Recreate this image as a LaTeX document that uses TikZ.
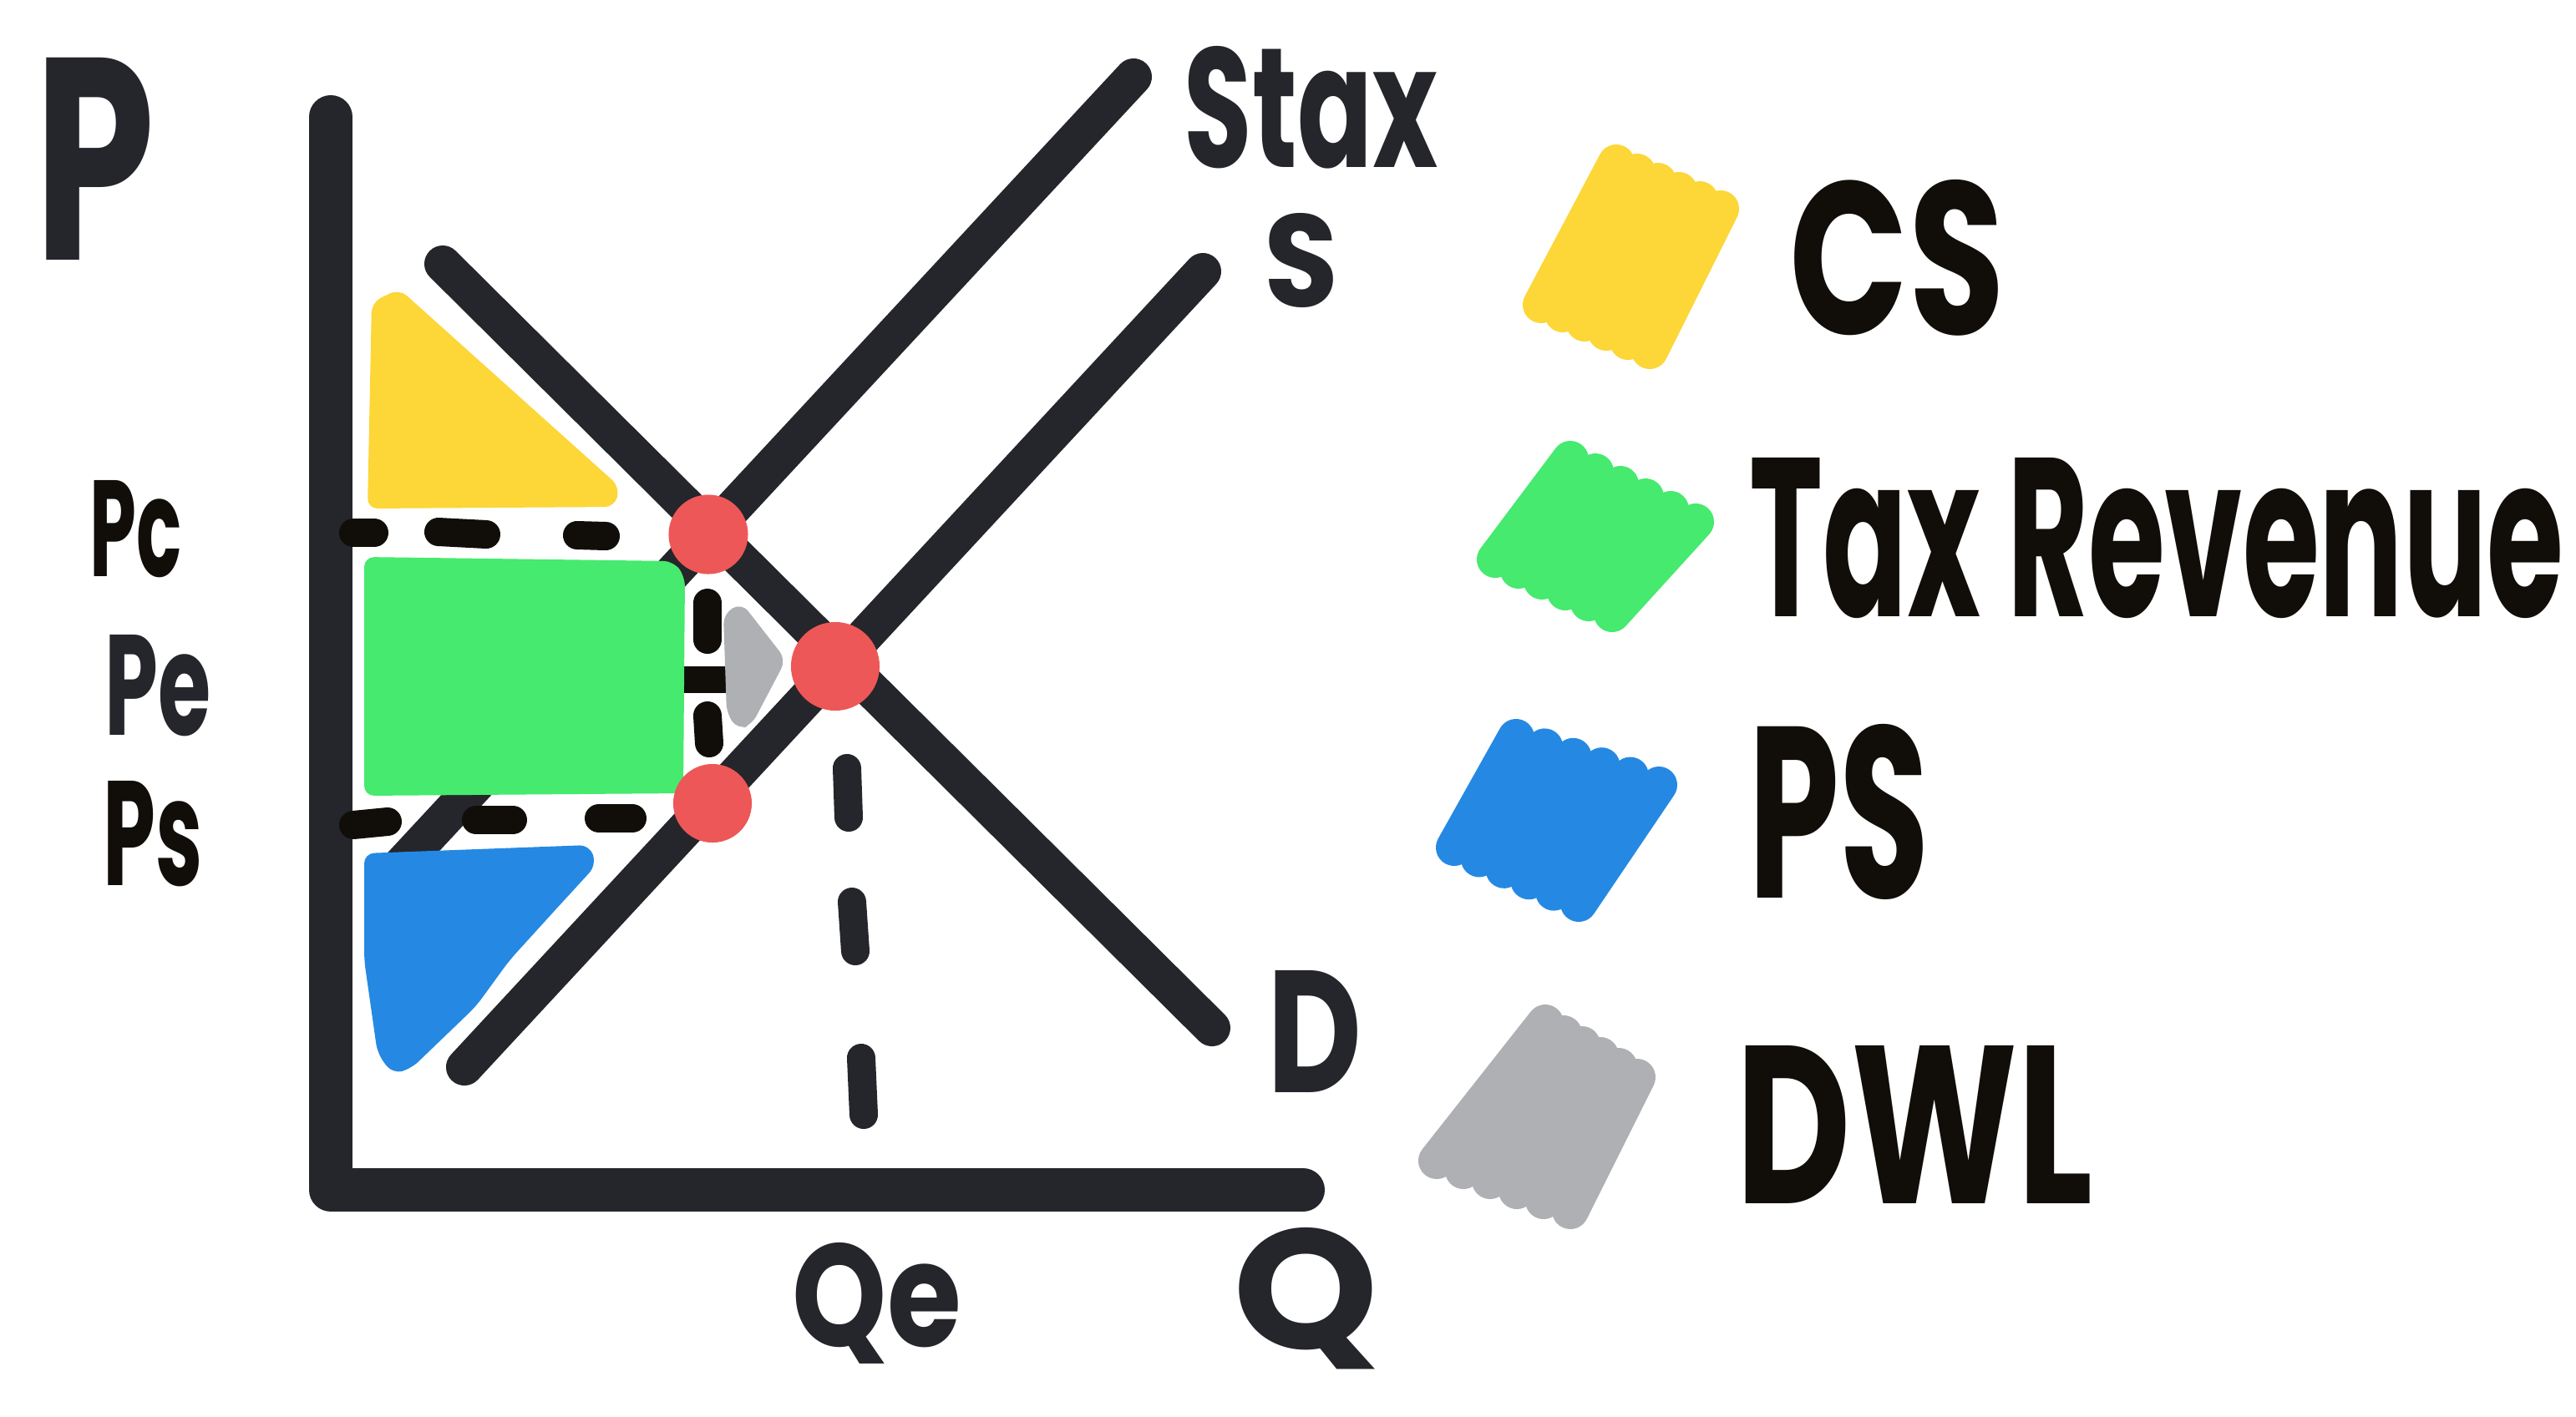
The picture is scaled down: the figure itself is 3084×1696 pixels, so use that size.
\documentclass[tikz,border=0pt]{standalone}
\usepackage{fontspec}
\usepackage{graphicx}
\newfontfamily\hand{Poppins}
\usetikzlibrary{calc}
\definecolor{ink}{RGB}{37,38,43}
\definecolor{blk}{RGB}{17,14,10}
\definecolor{csy}{RGB}{253,214,55}
\definecolor{trg}{RGB}{69,234,110}
\definecolor{psb}{RGB}{37,137,227}
\definecolor{dwl}{RGB}{175,176,179}
\definecolor{dotr}{RGB}{238,87,87}
\newcommand\myscribble[5]{\foreach \k in {0,...,5}{\draw[#1,line width=0.44cm,line cap=round] ($(#2)!\k/5!(#3)$) -- ($(#4)!\k/5!(#5)$);}}
\newcommand\lbl[6]{\node[anchor=base west,inner sep=0pt,#1] (#2) at (#3) {\resizebox{#4}{#5}{\hand\bfseries #6}};}
\tikzset{
  curve/.style={ink,line width=0.44cm,line cap=round},
  dashpiece/.style={blk,line width=0.34cm,line cap=round},
  qdash/.style={ink,line width=0.34cm,line cap=round},
  area/.style={rounded corners=0.12cm},
  eqdot/.style={circle,fill=dotr,inner sep=0pt}
}
\begin{document}
\begin{tikzpicture}[x=0.01cm,y=-0.01cm]
\fill[white] (0,0) rectangle (3084,1696);
\useasboundingbox (0,0) rectangle (3084,1696);
% axes
\draw[ink,line width=0.52cm,line cap=round,line join=round] (396,140) -- (396,1425) -- (1560,1425);
% curves
\draw[curve] (530,316) -- (1451,1231);   % D
\draw[curve] (1357,92) -- (472,1045);    % Stax
\draw[curve] (1440,325) -- (556,1278);   % S
% Pe stub
\draw[blk,line width=0.32cm] (815,814) -- (880,814);
% Pc dashes
\draw[dashpiece] (423,638) -- (448,638);
\draw[dashpiece] (525,637) -- (582,640);
\draw[dashpiece] (691,641) -- (725,642);
% Ps dashes
\draw[dashpiece] (423,988) -- (464,984);
\draw[dashpiece] (570,982) -- (614,982);
\draw[dashpiece] (717,980) -- (757,980);
% Qt dashes
\draw[dashpiece] (847,722) -- (847,766);
\draw[dashpiece] (847,857) -- (849,890);
% Qe dashes
\draw[qdash] (1014,920) -- (1016,979);
\draw[qdash] (1020,1080) -- (1024,1139);
\draw[qdash] (1031,1267) -- (1034,1335);
% areas
\fill[csy,area] (445,362) -- (478,346) -- (742,583) -- (736,607) -- (440,609) -- cycle;
\fill[trg,area] (436,667) -- (806,672) -- (820,690) -- (818,950) -- (436,953) -- cycle;
\fill[psb,area] (436,1022) -- (706,1012) -- (714,1036) -- (660,1095) -- (610,1150) -- (570,1205) -- (492,1280) -- (470,1286) -- (452,1262) -- (436,1150) -- cycle;
\fill[dwl,area] (866,735) -- (888,722) -- (941,790) -- (900,868) -- (884,874) -- (870,855) -- cycle;
% equilibrium dots
\node[eqdot,minimum size=0.95cm] (pc) at (848,640) {};
\node[eqdot,minimum size=1.06cm] (pe) at (1000,798) {};
\node[eqdot,minimum size=0.94cm] (ps) at (853,962) {};
% axis labels
\lbl{text=ink}{lP}{41,311}{1.44cm}{2.42cm}{P}
\lbl{text=blk}{lPc}{107,690}{1.10cm}{1.15cm}{Pc}
\lbl{text=ink}{lPe}{125,880}{1.27cm}{1.20cm}{Pe}
\lbl{text=blk}{lPs}{123,1060}{1.19cm}{1.25cm}{Ps}
\lbl{text=ink}{lQe}{948,1612}{2.02cm}{1.24cm}{Qe}
\lbl{text=ink}{lQ}{1476,1615}{1.74cm}{1.45cm}{Q}
\lbl{text=ink}{lStax}{1417,200}{3.03cm}{1.45cm}{Stax}
\lbl{text=ink}{lS}{1513,367}{0.89cm}{1.12cm}{S}
\lbl{text=ink}{lD}{1517,1308}{1.13cm}{1.46cm}{D}
% legend
\myscribble{csy}{1845,365}{1975,420}{1935,195}{2060,250}
\myscribble{trg}{1790,670}{1930,735}{1880,550}{2030,625}
\myscribble{psb}{1741,1015}{1890,1082}{1815,883}{1986,940}
\myscribble{dwl}{1720,1390}{1880,1450}{1850,1225}{1960,1290}
\lbl{text=blk}{lCS}{2142,400}{2.57cm}{1.85cm}{CS}
\lbl{text=blk}{lTR}{2094,738}{9.74cm}{1.90cm}{Tax Revenue}
\lbl{text=blk}{lPS}{2093,1075}{2.16cm}{2.08cm}{PS}
\lbl{text=blk}{lDWL}{2078,1441}{4.27cm}{1.89cm}{DWL}
\end{tikzpicture}
\end{document}
